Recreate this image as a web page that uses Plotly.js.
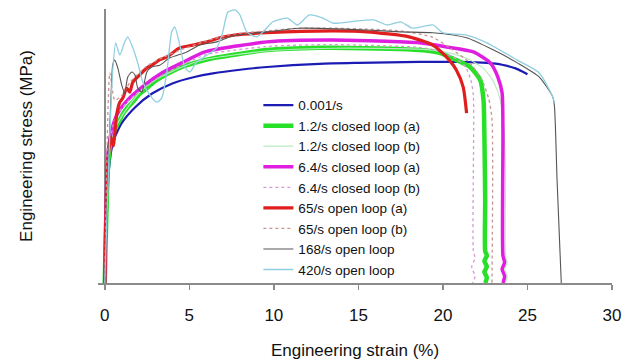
<!DOCTYPE html>
<html>
<head>
<meta charset="utf-8">
<script src="https://cdn.plot.ly/plotly-3.0.1.min.js"></script>
<style>html,body{margin:0;padding:0;background:#fff;}#chart{width:638px;height:362px;}</style>
</head>
<body>
<div id="chart"></div>
<script>
// Series names (legend)
const seriesNames = ["0.001/s", "1.2/s closed loop (a)", "1.2/s closed loop (b)", "6.4/s closed loop (a)",
  "6.4/s closed loop (b)", "65/s open loop (a)", "65/s open loop (b)", "168/s open loop", "420/s open loop"];

// 0.001/s
const strain_0001 = [0, 0.25, 0.5, 1, 1.8, 2.8, 4, 5.3, 6.4, 8, 9.6, 12.7, 15, 18.6, 21, 22.6, 23.5, 24.3, 24.7, 25.0];
const stress_0001 = [0, 250, 310, 350, 385, 415, 437, 451, 459, 467, 473, 480, 482, 484, 484, 482, 478, 470, 463, 457];

// 1.2/s closed loop (a)
const strain_12a = [0, 0.2, 0.4, 0.65, 0.89, 1.1, 1.36, 1.7, 2.0, 2.37, 2.9, 3.37, 4.56, 5.92, 6.5, 9.59, 12.7, 13.5, 18.6, 19.8, 20.8, 21.6, 22.2, 22.4, 22.45, 22.5, 22.5, 22.6, 22.45, 22.6, 22.45, 22.6, 22.5];
const stress_12a = [0, 260, 320, 340, 357, 372, 385, 398, 412, 423, 440, 451, 473, 488, 493, 510, 515, 515, 510, 504, 488, 473, 445, 401, 329, 182, 70, 60, 48, 36, 24, 12, 0];

// 1.2/s closed loop (b)
const strain_12b = [0, 0.2, 0.5, 1, 2, 3, 4.5, 6, 9.6, 13.5, 18.6, 20.2, 21.4, 22.4, 23.0, 23.4, 23.6, 23.7, 23.7, 23.8, 23.65, 23.8, 23.7];
const stress_12b = [0, 250, 330, 365, 415, 445, 472, 490, 508, 514, 512, 505, 492, 470, 440, 400, 340, 250, 60, 45, 30, 15, 0];

// 6.4/s closed loop (a)
const strain_64a = [0, 0.18, 0.45, 0.77, 1.36, 2.37, 3.37, 4.56, 5.92, 9.59, 13.5, 18.6, 20.2, 21.8, 22.8, 23.25, 23.5, 23.55, 23.55, 23.65, 23.5, 23.65, 23.55];
const stress_64a = [0, 280, 340, 372, 401, 434, 460, 482, 506, 528, 532, 526, 517, 506, 482, 451, 416, 329, 60, 45, 30, 15, 0];

// 6.4/s closed loop (b)
const strain_64b = [0, 0.15, 0.6, 1.3, 2.4, 3.4, 4.6, 6, 9.6, 13.5, 18.6, 19.5, 20.6, 21.3, 21.65, 21.8, 21.8, 21.9, 21.7, 21.9, 21.75];
const stress_64b = [0, 260, 360, 395, 430, 455, 478, 500, 518, 522, 516, 510, 495, 475, 445, 410, 70, 55, 35, 15, 0];

// 65/s open loop (a)
const strain_65a = [0, 0.15, 0.35, 0.5, 0.7, 0.89, 1.07, 1.3, 1.48, 1.66, 2.07, 2.49, 2.84, 3.25, 3.67, 4.44, 5.21, 6.04, 6.8, 7.7, 9.59, 13.5, 15.5, 18.0, 19.4, 20.2, 20.8, 21.2, 21.4];
const stress_65a = [0, 250, 320, 300, 368, 396, 405, 427, 418, 440, 456, 471, 478, 489, 495, 515, 521, 528, 537, 543, 548, 552, 550, 539, 521, 495, 466, 429, 372];

// 65/s open loop (b)
const strain_65b = [0, 0.2, 0.3, 0.6, 1.0, 1.5, 2.5, 3.5, 4.6, 6, 7.6, 9.6, 11.5, 13.5, 15.5, 17.5, 19.4, 20.4, 21.6, 22.3, 22.7, 22.9, 22.9];
const stress_65b = [0, 390, 460, 400, 410, 440, 475, 495, 512, 530, 545, 552, 558, 558, 556, 552, 538, 515, 482, 445, 405, 360, 0];

// 168/s open loop
const strain_168 = [0, 0.18, 0.36, 0.47, 0.59, 0.77, 1.0, 1.18, 1.36, 1.6, 1.78, 1.95, 2.19, 2.49, 2.78, 3.25, 3.85, 4.85, 5.62, 6.63, 7.57, 9.6, 11.5, 15.5, 17.5, 19.4, 21.4, 23.0, 24.4, 25.7, 26.5, 26.6, 26.75, 27.0];
const stress_168 = [0, 226, 401, 477, 488, 471, 434, 416, 451, 462, 456, 427, 418, 462, 473, 477, 493, 506, 521, 528, 541, 550, 558, 554, 550, 548, 537, 510, 482, 451, 407, 385, 226, 0];

// 420/s open loop
const strain_420 = [0, 0.24, 0.47, 0.65, 0.89, 1.18, 1.36, 1.66, 1.95, 2.25, 2.66, 3.08, 3.37, 3.67, 3.96, 4.14, 4.44, 4.73, 5.03, 5.44, 6.04, 6.63, 6.98, 7.28, 7.69, 7.99, 8.4, 9.0, 9.47, 9.94, 10.8, 11.4, 12.1, 12.9, 13.5, 14.5, 15.9, 16.7, 17.5, 18.2, 19.4, 20.0, 21.4, 22.6, 24.4, 25.7, 26.5, 26.6];
const stress_420 = [0, 269, 466, 526, 499, 528, 539, 515, 482, 440, 412, 396, 405, 462, 550, 561, 521, 473, 462, 484, 499, 515, 550, 593, 598, 587, 550, 539, 554, 572, 580, 565, 587, 580, 569, 572, 576, 565, 572, 558, 565, 548, 543, 526, 488, 460, 407, 394];

// Axis ticks
const xTickVals = [0, 5, 10, 15, 20, 25, 30];
const xTickText = ["0", "5", "10", "15", "20", "25", "30"];

const xs = [strain_0001, strain_12a, strain_12b, strain_64a, strain_64b, strain_65a, strain_65b, strain_168, strain_420];
const ys = [stress_0001, stress_12a, stress_12b, stress_64a, stress_64b, stress_65a, stress_65b, stress_168, stress_420];
const styles = [
  {color: "#1c1cb4", width: 2.2, dash: "solid"},
  {color: "#28e028", width: 4.5, dash: "solid"},
  {color: "#b9ebc0", width: 1.2, dash: "solid"},
  {color: "#e01ee0", width: 3.5, dash: "solid"},
  {color: "#d699d6", width: 1.3, dash: "dot"},
  {color: "#e01e1e", width: 3.2, dash: "solid"},
  {color: "#c79494", width: 1.3, dash: "dot"},
  {color: "#555555", width: 1.1, dash: "solid"},
  {color: "#8fcfe0", width: 1.3, dash: "solid"}
];

const traces = seriesNames.map((n, i) => ({
  type: "scatter", mode: "lines", name: n,
  x: xs[i], y: ys[i],
  line: {color: styles[i].color, width: styles[i].width, dash: styles[i].dash, shape: "spline", smoothing: 0.6},
  hoverinfo: "skip"
}));

const layout = {
  width: 638, height: 362,
  margin: {l: 98, r: 26, t: 9, b: 79},
  paper_bgcolor: "#fff", plot_bgcolor: "#fff",
  font: {family: "Liberation Sans, Arial, sans-serif", color: "#111", size: 16},
  showlegend: true,
  legend: {x: 0.312, y: 0.705, xanchor: "left", yanchor: "top", bgcolor: "rgba(0,0,0,0)",
    font: {size: 13.5, color: "#111"}, tracegroupgap: 0, itemwidth: 30},
  xaxis: {
    range: [-0.4, 30], tickvals: xTickVals, ticktext: xTickText,
    showline: true, linecolor: "#8a8a8a", linewidth: 1.5,
    ticks: "outside", ticklen: 5, tickcolor: "#8a8a8a", tickwidth: 1.5,
    ticklabelstandoff: 11,
    showgrid: false, zeroline: true, zerolinecolor: "#8a8a8a", zerolinewidth: 1.5,
    tickfont: {size: 17, color: "#111"},
    title: {text: "Engineering strain (%)", font: {size: 17, color: "#111"}, standoff: 20},
    automargin: false
  },
  yaxis: {
    range: [0, 600], showline: false, showgrid: false, zeroline: false,
    showticklabels: false, ticks: "",
    title: {text: "Engineering stress (MPa)", font: {size: 17, color: "#111"}, standoff: 60},
    automargin: false
  }
};

Plotly.newPlot("chart", traces, layout, {staticPlot: true, displayModeBar: false});
</script>
</body>
</html>
